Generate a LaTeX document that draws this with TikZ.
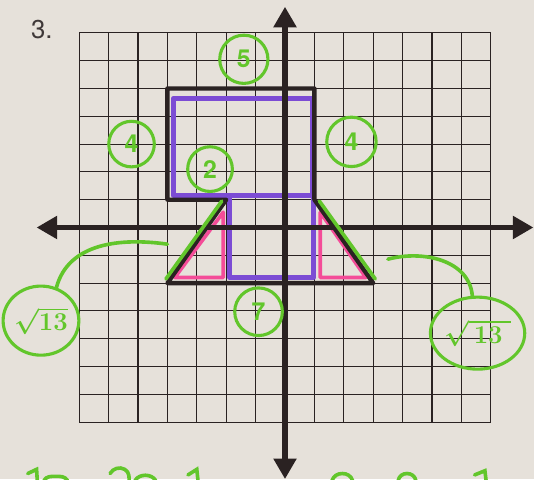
\documentclass[tikz,border=0pt]{standalone}
\usepackage{fontspec}
\usepackage{tikz}
\usetikzlibrary{positioning,arrows.meta,shapes.geometric,calc}
\newfontfamily\labelfont{TeX Gyre Heros}
\definecolor{paper}{HTML}{E6E1DA}
\definecolor{ink}{HTML}{2A2222}
\definecolor{markpurple}{HTML}{7C4CD4}
\definecolor{markpink}{HTML}{F44C98}
\definecolor{markgreen}{HTML}{62C62B}

\begin{document}
\begin{tikzpicture}[x=1cm,y=0.9456cm,every node/.style={font=\labelfont}]
    \tikzstyle{gridline}=[ink,line width=1.1pt];
    \tikzstyle{axisline}=[ink,line width=5pt,{Triangle[length=7mm,width=7.5mm]}-{Triangle[length=7mm,width=7.5mm]}];
    \tikzstyle{outline}=[ink,line width=4.2pt,line join=round,line cap=round];
    \tikzstyle{purpleline}=[markpurple,line width=4.5pt,line join=round];
    \tikzstyle{pinkline}=[markpink,line width=3.5pt,line join=round];
    \tikzstyle{hilite}=[markgreen,line width=3.5pt,line cap=round];
    \tikzstyle{numcirc}=[circle,draw=markgreen,line width=3pt,inner sep=0pt,text=markgreen,
                         font=\labelfont\bfseries\fontsize{24}{24}\selectfont];
    \tikzstyle{rootcirc}=[ellipse,draw=markgreen,line width=3pt,inner sep=0pt,text=markgreen,
                          font=\fontsize{26}{26}\selectfont\boldmath];
    \useasboundingbox[fill=paper] (-9.694,-9.047) rectangle (8.469,8.183);
    % --- grid ---
    \draw[gridline] (-7,-7) grid[xstep=1cm,ystep=0.9456cm] (7,7);
    \node[font=\labelfont\fontsize{25}{30}\selectfont,text=ink!90] (qnum) at (-8.27,7.12) {3.};
    % --- coloured marks ---
    \draw[pinkline] (-2.1,0.55) -- (-2.1,-1.8) -- (-3.75,-1.8) -- cycle;
    \draw[pinkline] (1.2,0.55) -- (1.2,-1.8) -- (2.75,-1.8) -- cycle;
    \draw[purpleline] (-3.8,4.65) rectangle (0.93,1.15);
    \draw[purpleline] (-1.88,1.15) -- (-1.88,-1.8) -- (0.98,-1.8) -- (0.98,1.15);
    % --- figure outline ---
    \draw[outline] (-4,5) -- (1,5) -- (1,1) -- (3,-2) -- (-4,-2) -- (-2,1) -- (-4,1) -- cycle;
    % --- axes ---
    \coordinate (xl) at (-8.45,0);
    \coordinate (xr) at (8.45,0);
    \coordinate (yb) at (0,-9.05);
    \coordinate (yt) at (0,7.94);
    \draw[axisline] (xl) -- (xr);
    \draw[axisline] (yb) -- (yt);
    % --- side lengths ---
    \draw[hilite] (-2.15,0.95) -- (-4.05,-1.85);
    \draw[hilite] (1.17,0.95) -- (3.07,-1.85);
    \node[numcirc,minimum size=1.64cm] (top)   at (-1.4,6.05)  {5};
    \node[numcirc,minimum size=1.55cm] (left)  at (-5.22,3.0)  {4};
    \node[numcirc,minimum size=1.52cm] (notch) at (-2.55,2.1)  {2};
    \node[numcirc,minimum size=1.68cm] (right) at (2.26,3.08)  {4};
    \node[numcirc,minimum size=1.62cm] (base)  at (-0.9,-3.03) {7};
    \node[rootcirc,minimum width=2.5cm,minimum height=2.35cm] (rootL) at (-8.3,-3.35) {$\sqrt{13}$};
    \node[rootcirc,minimum width=2.9cm,minimum height=2.45cm] (rootR) at (6.55,-3.8) {$\sqrt{\,13\;}$};
    \coordinate (lend) at (-4.0,-0.6);
    \coordinate (rstart) at (3.5,-1.14);
    \draw[hilite] (rootL.65) to[out=75,in=172] (lend);
    \draw[hilite] (rstart) to[out=15,in=95] (rootR.98);
    % --- cut-off writing at the bottom ---
    \draw[hilite] (-8.75,-8.85) -- (-8.45,-8.7) -- (-8.42,-9.2);
    \draw[hilite] (-8.2,-9.1) to[out=60,in=180] (-7.8,-8.95) to[out=0,in=120] (-7.4,-9.1);
    \draw[hilite] (-5.95,-8.85) to[out=60,in=150] (-5.45,-8.7) to[out=-30,in=90] (-5.3,-9.2);
    \draw[hilite] (-5.1,-9.1) to[out=60,in=120] (-4.4,-9.1);
    \draw[hilite] (-3.3,-8.9) -- (-3.0,-8.7) -- (-2.95,-9.2);
    \draw[hilite] (1.6,-9.1) to[out=70,in=180] (1.95,-8.85) to[out=0,in=110] (2.3,-9.1);
    \draw[hilite] (3.85,-9.1) to[out=80,in=180] (4.15,-8.85) to[out=0,in=100] (4.45,-9.1);
    \draw[hilite] (6.45,-8.9) -- (6.8,-8.75) -- (6.85,-9.2);
\end{tikzpicture}
\end{document}
